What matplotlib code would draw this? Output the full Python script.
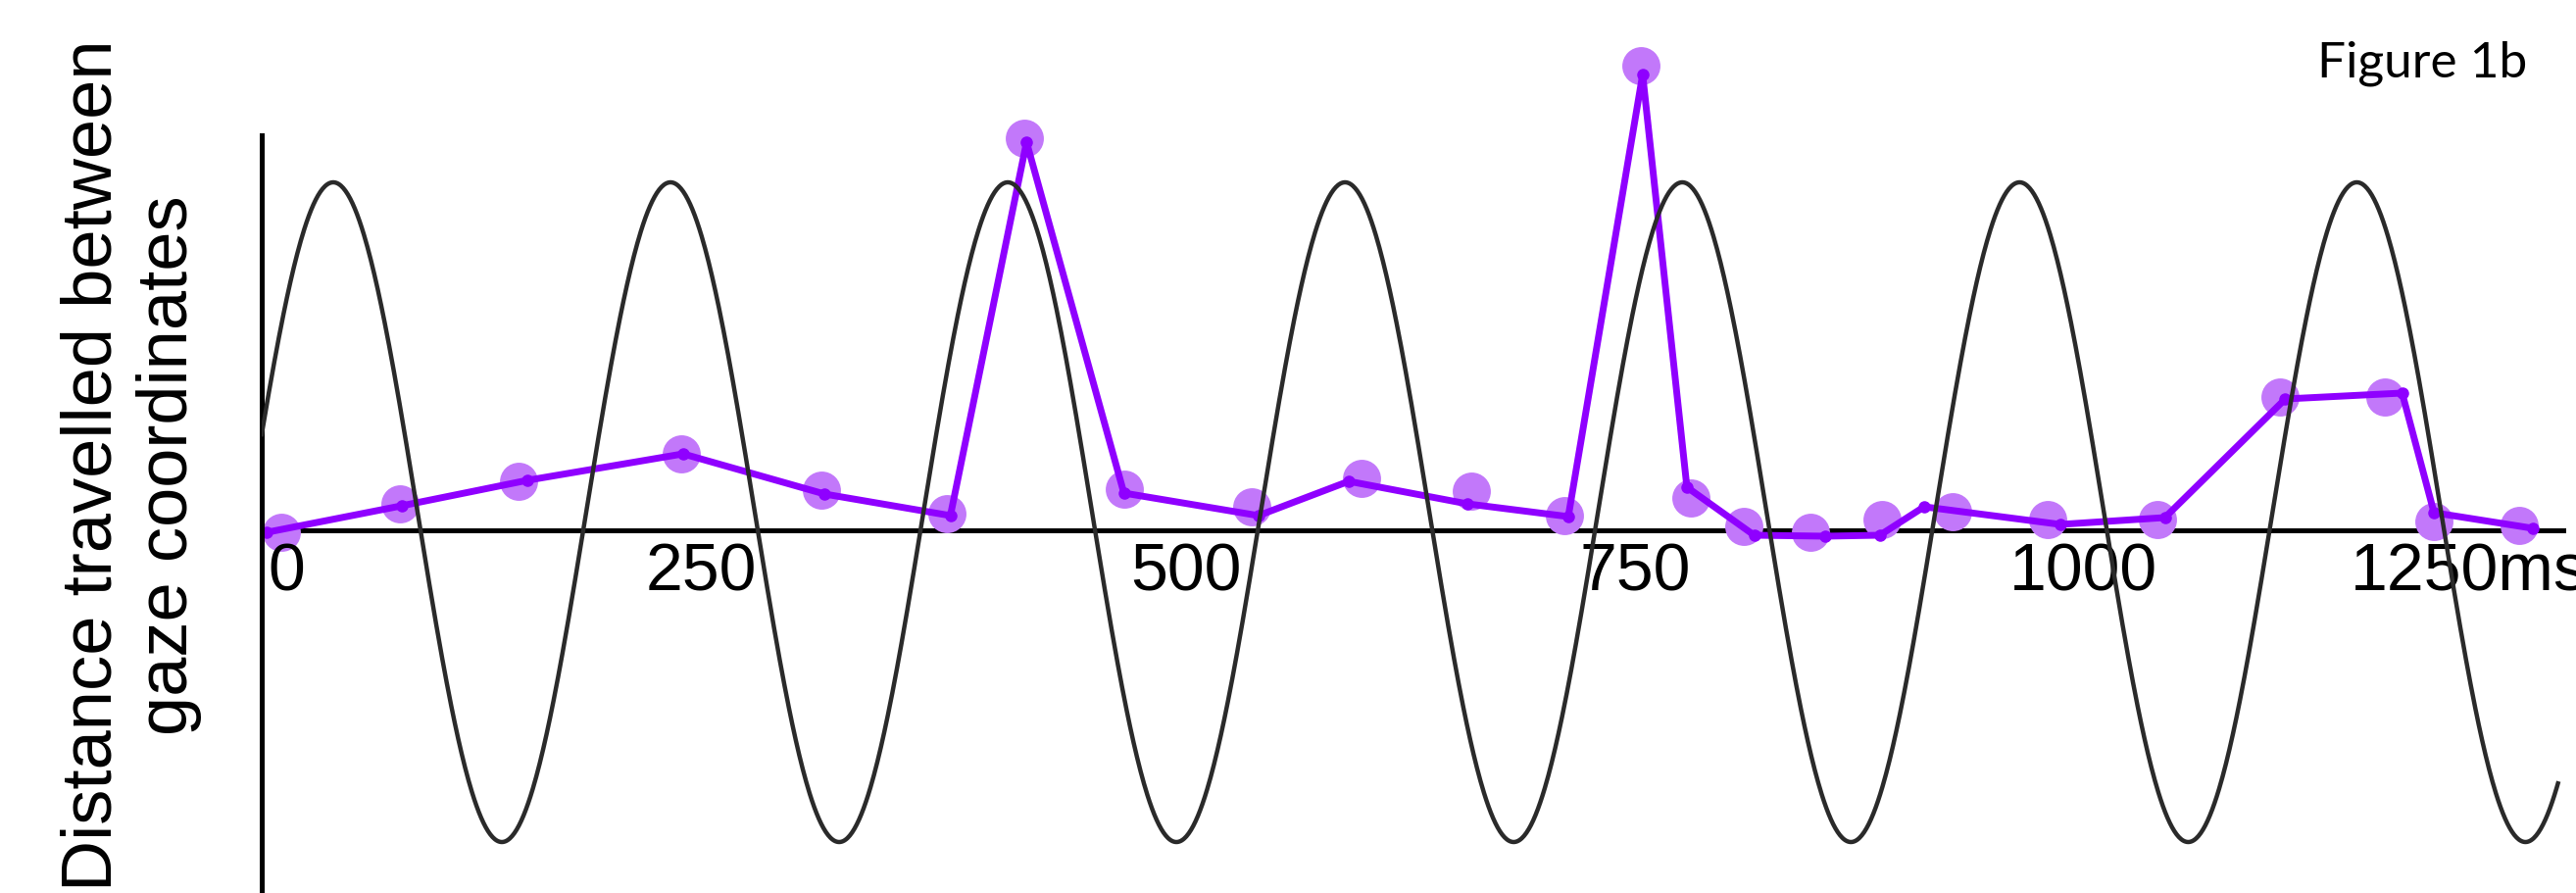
import numpy as np
import matplotlib.pyplot as plt

# gaze samples: dot centres (ms, distance)
dot_ms = [11, 78, 145, 237, 316, 387, 431, 487, 559, 621, 683, 736,
          779, 807, 837, 875, 915, 955, 1009, 1071, 1140, 1199, 1227, 1275]
dot_dist = [-0.2, 2.7, 5.0, 7.8, 4.1, 1.7, 40.0, 4.2, 2.4, 5.3, 4.0, 1.5,
            47.4, 3.3, 0.4, -0.2, 1.1, 1.9, 1.1, 1.1, 13.6, 13.6, 0.9, 0.5]

# the hand-drawn line does not sit exactly on the dots
line_ms = [3, 79, 150, 238, 318, 389, 432, 487, 563, 614, 681, 738,
           780, 805, 843, 883, 914, 939, 1016, 1075, 1143, 1209, 1227, 1283]
line_dist = [-0.2, 2.5, 5.1, 7.8, 3.7, 1.5, 39.6, 3.8, 1.5, 5.0, 2.7, 1.4,
             46.5, 4.4, -0.5, -0.6, -0.5, 2.4, 0.6, 1.3, 13.4, 14.0, 1.8, 0.2]

tick_pos = [14, 248, 522, 776, 1029, 1247]
tick_labels = ['0', '250', '500', '750', '1000', '1250ms']

# background oscillation
osc_period = 190.5
osc_peak = 40.4
osc_amp = 33.65
osc_offset = 1.85
osc_end = 1297

fig = plt.figure(figsize=(26.28, 9.11), dpi=100)
ax = fig.add_axes([267 / 2628, 0, (2615 - 267) / 2628, 773 / 911])
ax.set_xlim(0, 1300)
ax.set_ylim(-37.0, 40.3)

t = np.linspace(0, osc_end, 2000)
wave = osc_offset + osc_amp * np.cos(2 * np.pi * (t - osc_peak) / osc_period)

ax.plot(dot_ms, dot_dist, 'o', ms=28, color='#c278fa', mec='none',
        clip_on=False, zorder=1)
ax.plot(line_ms, line_dist, '-o', lw=5, ms=8, color='#8f00ff',
        solid_joinstyle='round', solid_capstyle='round',
        clip_on=False, zorder=2)
ax.plot(t, wave, color='#2a2a2a', lw=3.2, zorder=3)

for side in ['top', 'right']:
    ax.spines[side].set_visible(False)
ax.spines['bottom'].set_position(('data', 0))
ax.spines['bottom'].set_linewidth(3.6)
ax.spines['left'].set_linewidth(3.6)
ax.spines['bottom'].set_zorder(0)

ax.set_yticks([])
ax.set_xticks(tick_pos)
ax.set_xticklabels(tick_labels, family='Liberation Sans', fontsize=49)
ax.tick_params(axis='x', length=0, pad=8)
for lab in ax.get_xticklabels():
    lab.set_clip_on(False)

fig.text(0.051, 0.479, 'Distance travelled between\ngaze coordinates',
         rotation=90, ha='center', va='center', family='Liberation Sans',
         fontsize=52, linespacing=1.2)
fig.text(2578 / 2628, 1 - 78 / 911, 'Figure 1b', ha='right', va='baseline',
         family='Lato', fontsize=37)

fig.savefig('out.png', dpi=100)
